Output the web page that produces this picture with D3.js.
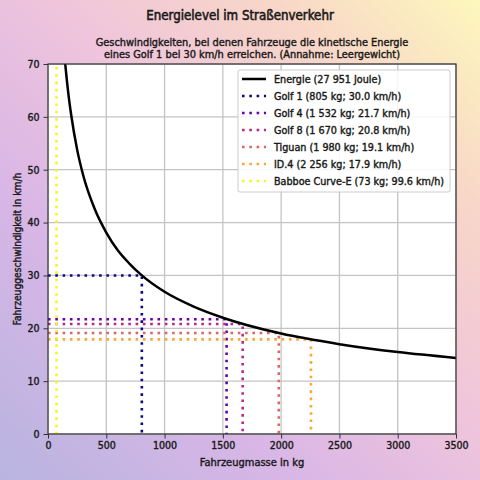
<!DOCTYPE html>
<html><head><meta charset="utf-8">
<script src="https://cdn.jsdelivr.net/npm/d3@7"></script>
<style>
body{margin:0;}
svg{display:block;}
text{font-family:"DejaVu Sans Condensed","DejaVu Sans",sans-serif;fill:#1a1a1a;stroke:#1a1a1a;stroke-width:0.4px;}
</style></head>
<body><svg id="c" width="480" height="480"></svg>
<script>
// Energy curve points (mass kg, speed km/h)
const curveMass  = [140, 150, 175, 200, 250, 300, 400, 500, 600, 700, 800, 1000, 1250, 1500, 2000, 2500, 3000, 3500];
const curveSpeed = [71.9, 69.5, 64.3, 60.2, 53.8, 49.1, 42.6, 38.1, 34.7, 32.2, 30.1, 26.9, 24.1, 22.0, 19.0, 17.0, 15.5, 14.4];

const vehicleNames  = ["Golf 1", "Golf 4", "Golf 8", "Tiguan", "ID.4", "Babboe Curve-E"];
const vehicleMasses = [805, 1532, 1670, 1980, 2256, 73];
const vehicleSpeeds = [30.0, 21.7, 20.8, 19.1, 17.9, 99.6];
const vehicleLabels = ["Golf 1 (805 kg; 30.0 km/h)", "Golf 4 (1 532 kg; 21.7 km/h)", "Golf 8 (1 670 kg; 20.8 km/h)",
                       "Tiguan (1 980 kg; 19.1 km/h)", "ID.4 (2 256 kg; 17.9 km/h)", "Babboe Curve-E (73 kg; 99.6 km/h)"];
const vehicleColors = ["#0d0887", "#6a00a8", "#b12a90", "#e16462", "#fca636", "#f0f921"];
const energyLabel = "Energie (27 951 Joule)";

const xTicks = [0, 500, 1000, 1500, 2000, 2500, 3000, 3500];
const yTicks = [0, 10, 20, 30, 40, 50, 60, 70];

const title = "Energielevel im Straßenverkehr";
const subtitle = ["Geschwindigkeiten, bei denen Fahrzeuge die kinetische Energie",
                  "eines Golf 1 bei 30 km/h erreichen. (Annahme: Leergewicht)"];
const xLabel = "Fahrzeugmasse in kg";
const yLabel = "Fahrzeuggeschwindigkeit in km/h";

const svg = d3.select("#c");
const W = 480, H = 480;
const m = {l:48, r:456, t:64, b:434};

// background gradient
const defs = svg.append("defs");
const g = defs.append("linearGradient").attr("id","bg")
  .attr("x1","0").attr("y1","1").attr("x2","1").attr("y2","0");
[["0","#b8b4e0"],["0.3","#d8b6e6"],["0.55","#efc4dc"],["0.78","#f8d6c8"],["1","#fdf8bc"]]
  .forEach(([o,c])=>g.append("stop").attr("offset",o).attr("stop-color",c));
svg.append("rect").attr("width",W).attr("height",H).attr("fill","url(#bg)");

defs.append("clipPath").attr("id","clip").append("rect")
  .attr("x",m.l).attr("y",m.t).attr("width",m.r-m.l).attr("height",m.b-m.t);

const x = d3.scaleLinear().domain([0,3500]).range([m.l,m.r]);
const y = d3.scaleLinear().domain([0,70]).range([m.b,m.t]);

svg.append("rect").attr("x",m.l).attr("y",m.t).attr("width",m.r-m.l).attr("height",m.b-m.t).attr("fill","#fff");

// grid
const grid = svg.append("g");
grid.selectAll(".gx").data(xTicks).join("line")
  .attr("x1",d=>x(d)).attr("x2",d=>x(d)).attr("y1",m.t).attr("y2",m.b)
  .attr("stroke","#c4c4c4").attr("stroke-width",1.3);
grid.selectAll(".gy").data(yTicks).join("line")
  .attr("y1",d=>y(d)).attr("y2",d=>y(d)).attr("x1",m.l).attr("x2",m.r)
  .attr("stroke","#c4c4c4").attr("stroke-width",1.3);

const plot = svg.append("g").attr("clip-path","url(#clip)");
const vehicles = vehicleNames.map((n,i)=>({n, m:vehicleMasses[i], v:vehicleSpeeds[i], c:vehicleColors[i]}));
vehicles.forEach(v=>{
  plot.append("path")
    .attr("d", d3.line()([[x(0),y(v.v)],[x(v.m),y(v.v)],[x(v.m),y(0)]]))
    .attr("fill","none").attr("stroke",v.c).attr("stroke-width",2.6)
    .attr("stroke-dasharray","2.6 4.7");
});
const pts = curveMass.map((d,i)=>[d,curveSpeed[i]]);
plot.append("path")
  .attr("d", d3.line().x(d=>x(d[0])).y(d=>y(d[1])).curve(d3.curveMonotoneX)(pts))
  .attr("fill","none").attr("stroke","#000").attr("stroke-width",2.5);

// axes
const ax = svg.append("g").attr("transform",`translate(0,${m.b})`)
  .call(d3.axisBottom(x).tickValues(xTicks).tickSize(4.5).tickPadding(3).tickFormat(d3.format("d")));
const ay = svg.append("g").attr("transform",`translate(${m.l},0)`)
  .call(d3.axisLeft(y).tickValues(yTicks).tickSize(4.5).tickPadding(4).tickFormat(d3.format("d")));
[ax,ay].forEach(a=>{
  a.select(".domain").remove();
  a.selectAll("line").attr("stroke","#333").attr("stroke-width",1);
  a.selectAll("text").attr("font-size",10.5)
   .style("font-family",'"DejaVu Sans Condensed","DejaVu Sans",sans-serif')
   .attr("fill","#1a1a1a").attr("stroke","#1a1a1a").attr("stroke-width",0.4);
});
svg.append("rect").attr("x",m.l).attr("y",m.t).attr("width",m.r-m.l).attr("height",m.b-m.t)
  .attr("fill","none").attr("stroke","#333").attr("stroke-width",1.2);

// titles
svg.append("text").attr("x",240).attr("y",19.5).attr("text-anchor","middle")
  .attr("font-size",13.2).style("stroke-width","0.55px").text(title);
subtitle.forEach((s,i)=>svg.append("text").attr("x",252).attr("y",46+i*11.5).attr("text-anchor","middle")
  .attr("font-size",10.9).text(s));
svg.append("text").attr("x",252).attr("y",466).attr("text-anchor","middle")
  .attr("font-size",11).text(xLabel);
svg.append("text").attr("transform",`translate(21,${(m.t+m.b)/2}) rotate(-90)`).attr("text-anchor","middle")
  .attr("font-size",10.2).text(yLabel);

// legend
const lg = svg.append("g");
lg.append("rect").attr("x",238).attr("y",70).attr("width",212).attr("height",122).attr("rx",2)
  .attr("fill","#fff").attr("fill-opacity",0.85).attr("stroke","#cccccc").attr("stroke-width",1);
const items = [{label:energyLabel, c:"#000", dash:null}].concat(vehicles.map((v,i)=>({label:vehicleLabels[i], c:v.c, dash:"2.6 4.7"})));
items.forEach((it,i)=>{
  const yy = 79 + i*17;
  lg.append("line").attr("x1",242).attr("x2",266).attr("y1",yy).attr("y2",yy)
    .attr("stroke",it.c).attr("stroke-width",it.dash?2.6:2.5).attr("stroke-dasharray",it.dash);
  lg.append("text").attr("x",274).attr("y",yy+3.9).attr("font-size",10.7).text(it.label);
});
</script></body></html>
